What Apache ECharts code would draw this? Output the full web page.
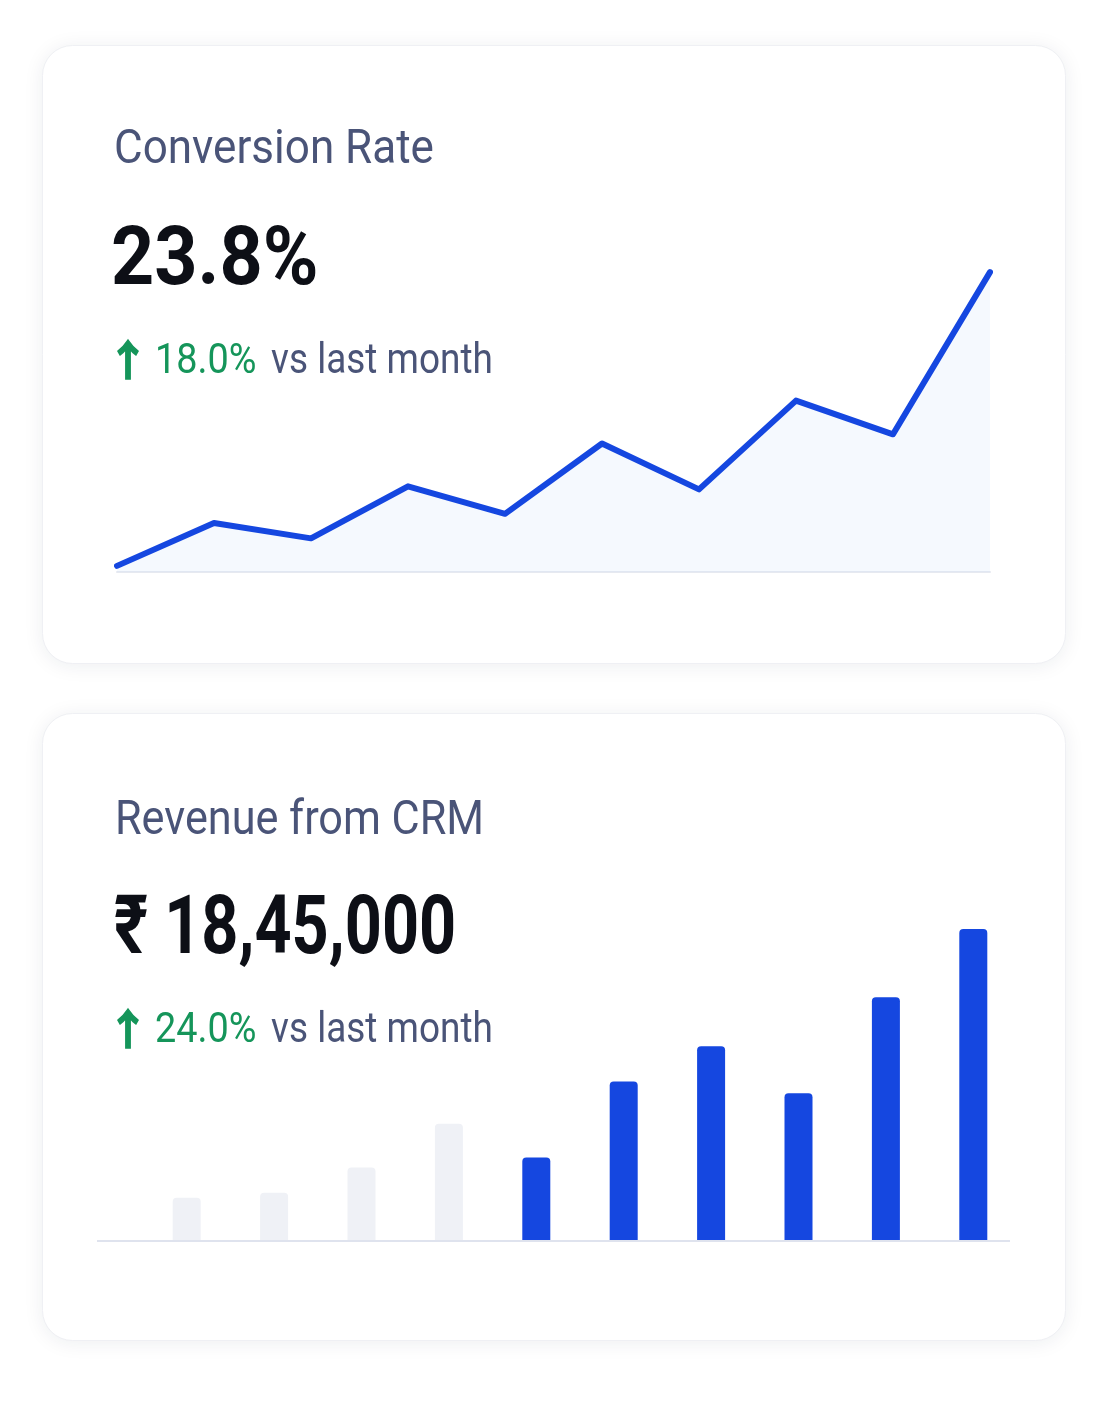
<!DOCTYPE html>
<html lang="en" style="height: 100%">
<head>
  <meta charset="utf-8">
</head>
<body style="height: 100%; margin: 0; background: #ffffff">
  <div id="container" style="height: 100%"></div>

  <script type="text/javascript" src="https://cdn.jsdelivr.net/npm/echarts@6/dist/echarts.min.js"></script>

  <script type="text/javascript">
    // conversion rate, per period (%)
    var rateCategories = ['P1', 'P2', 'P3', 'P4', 'P5', 'P6', 'P7', 'P8', 'P9', 'P10'];
    var rateValues = [14.2, 15.6, 15.1, 16.8, 15.9, 18.2, 16.7, 19.6, 18.5, 23.8];

    // revenue per period (lakh ₹)
    var revenueCategories = ['P1', 'P2', 'P3', 'P4', 'P5', 'P6', 'P7', 'P8', 'P9', 'P10'];
    var revenueValues = [2.5, 2.8, 4.3, 6.9, 4.9, 9.4, 11.5, 8.7, 14.4, 18.45];
    var mutedBars = 4; // first bars are drawn greyed out

    var dom = document.getElementById('container');
    var myChart = echarts.init(dom, null, { renderer: 'canvas' });

    var FONT = 'Roboto, "Noto Sans", sans-serif';
    var BLUE = '#1547e0';
    var GREEN = '#15955a';
    var SLATE = '#4a5478';

    function card(top, height) {
      return {
        type: 'rect',
        left: 42,
        top: top,
        shape: { width: 1023, height: height, r: 30 },
        style: {
          fill: '#ffffff',
          stroke: '#eff0f4',
          lineWidth: 1,
          shadowBlur: 20,
          shadowColor: 'rgba(30, 40, 70, 0.08)',
          shadowOffsetY: 2
        },
        z: -10
      };
    }

    // text pieces are squeezed a little to match the narrow face of the original
    function label(str, x, y, size, weight, color, sx, family) {
      return {
        type: 'text',
        x: x,
        y: y,
        scaleX: sx,
        style: {
          text: str,
          fontFamily: family || FONT,
          fontSize: size,
          fontWeight: weight,
          fill: color,
          verticalAlign: 'middle'
        },
        z: 5
      };
    }

    function change(pct, y) {
      var arrow = label('↑', 107, y - 2, 42, 700, GREEN, 1, '"Noto Sans CJK SC", sans-serif');
      arrow.style.stroke = GREEN;
      arrow.style.lineWidth = 1.5;
      return [
        arrow,
        label(pct, 155, y, 42, 400, GREEN, 0.9),
        label('vs last month', 271, y, 42, 400, SLATE, 0.88)
      ];
    }

    option = {
      animation: false,
      backgroundColor: '#ffffff',
      graphic: [
        card(45, 618),
        card(713, 627),
        {
          type: 'line',
          shape: { x1: 97, y1: 1241, x2: 1010, y2: 1241 },
          style: { stroke: '#dfe3ee', lineWidth: 2 },
          z: 1
        },
        label('Conversion Rate', 114, 151, 48, 400, SLATE, 0.917),
        label('23.8%', 111, 263, 82, 700, '#0d0f16', 0.92),
        label('Revenue from CRM', 115, 822, 48, 400, SLATE, 0.9),
        label('₹ 18,45,000', 114, 932, 82, 700, '#0d0f16', 0.79)
      ].concat(change('18.0%', 362), change('24.0%', 1031)),
      grid: [
        { left: 117, right: 118, top: 266, bottom: 848 },
        { left: 143, right: 91, top: 929, bottom: 180 }
      ],
      xAxis: [
        {
          type: 'category',
          gridIndex: 0,
          data: rateCategories,
          boundaryGap: false,
          axisLine: { show: true, lineStyle: { color: '#e6e9f0', width: 2 } },
          axisTick: { show: false },
          axisLabel: { show: false }
        },
        {
          type: 'category',
          gridIndex: 1,
          data: revenueCategories,
          axisLine: { show: false },
          axisTick: { show: false },
          axisLabel: { show: false }
        }
      ],
      yAxis: [
        {
          type: 'value',
          gridIndex: 0,
          min: 14,
          max: 24,
          splitLine: { show: false },
          axisLabel: { show: false }
        },
        {
          type: 'value',
          gridIndex: 1,
          min: 0,
          max: 18.45,
          splitLine: { show: false },
          axisLabel: { show: false }
        }
      ],
      series: [
        {
          type: 'line',
          xAxisIndex: 0,
          yAxisIndex: 0,
          data: rateValues,
          symbol: 'none',
          lineStyle: { color: BLUE, width: 6, join: 'round', cap: 'round' },
          areaStyle: { color: 'rgba(210, 225, 252, 0.3)' }
        },
        {
          type: 'bar',
          xAxisIndex: 1,
          yAxisIndex: 1,
          data: revenueValues,
          barWidth: 28,
          z: 2,
          itemStyle: {
            borderRadius: [4, 4, 0, 0],
            color: function (p) {
              return p.dataIndex < mutedBars ? '#eff1f6' : BLUE;
            }
          }
        }
      ]
    };

    myChart.setOption(option);
    window.addEventListener('resize', myChart.resize);
  </script>
</body>
</html>
